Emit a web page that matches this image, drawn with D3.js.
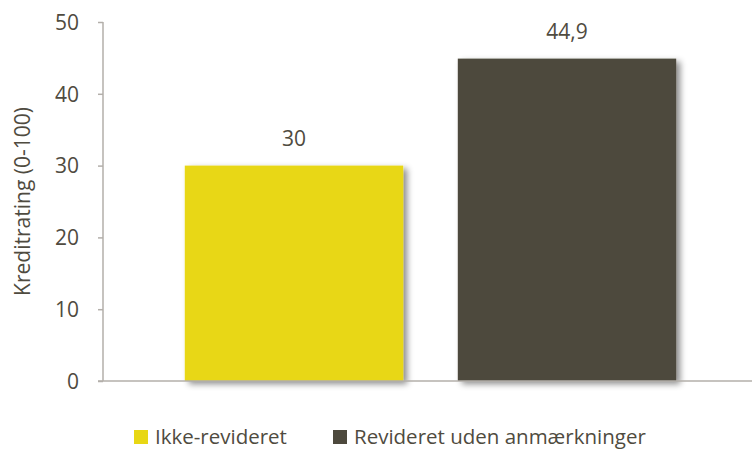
<!DOCTYPE html>
<html><head><meta charset="utf-8">
<script src="https://cdn.jsdelivr.net/npm/d3@7"></script>
<style>body{margin:0;background:#fff}text{font-family:"Open Sans",sans-serif;fill:#4f4b40}</style>
</head><body>
<svg id="c" width="752" height="449"></svg>
<script>
const categories = ["Ikke-revideret", "Revideret uden anmærkninger"];
const values = [30, 44.9];
const valueLabels = ["30", "44,9"];
const colors = ["#e8d714", "#4d493d"];
const yTicks = [0, 10, 20, 30, 40, 50];
const yTitle = "Kreditrating (0-100)";

const svg = d3.select("#c");
const defs = svg.append("defs");
const f = defs.append("filter").attr("id","sh").attr("x","-10%").attr("y","-10%").attr("width","130%").attr("height","130%");
f.append("feDropShadow").attr("dx",4).attr("dy",3).attr("stdDeviation",3).attr("flood-color","#000").attr("flood-opacity",0.45);

const y = d3.scaleLinear().domain([0,50]).range([381,22]);
const x = d3.scaleBand().domain(categories).range([157.5,703.5]).paddingInner(0.2).paddingOuter(0.1);

// y axis
const ya = svg.append("g").attr("transform","translate(103,0)")
  .call(d3.axisLeft(y).tickValues(yTicks).tickSize(5).tickPadding(19).tickFormat(d3.format("d")));
ya.selectAll("path,line").attr("stroke","#b3afaa").attr("stroke-width",1.5);
ya.select(".domain").attr("d","M0,"+y(50)+"V"+y(0));
ya.selectAll("text").attr("font-size",21).style("font-family","'Open Sans', sans-serif").attr("fill","#4f4b40").attr("dy","0.35em");

// bars
svg.append("g").selectAll("rect").data(values).join("rect")
  .attr("x",(d,i)=>x(categories[i])).attr("width",x.bandwidth())
  .attr("y",d=>y(d)).attr("height",d=>y(0)-y(d))
  .attr("fill",(d,i)=>colors[i]).attr("filter","url(#sh)");

// x axis line
svg.append("line").attr("x1",98).attr("x2",752).attr("y1",y(0)).attr("y2",y(0)).attr("stroke","#b3afaa").attr("stroke-width",1.5);

// value labels
svg.append("g").selectAll("text").data(values).join("text")
  .attr("x",(d,i)=>x(categories[i])+x.bandwidth()/2).attr("y",d=>y(d)-20)
  .attr("text-anchor","middle").attr("font-size",21).text((d,i)=>valueLabels[i]);

// y title
svg.append("text").attr("transform","translate(30,"+((y(0)+y(50))/2)+") rotate(-90)")
  .attr("text-anchor","middle").attr("font-size",21).text(yTitle);

// legend
const legX = [134, 333];
const lg = svg.append("g").selectAll("g").data(categories).join("g")
  .attr("transform",(d,i)=>"translate("+legX[i]+",430)");
lg.append("rect").attr("width",14).attr("height",14).attr("fill",(d,i)=>colors[i]);
lg.append("text").attr("x",21).attr("y",14).attr("font-size",20.5).text(d=>d);
</script>
</body></html>
